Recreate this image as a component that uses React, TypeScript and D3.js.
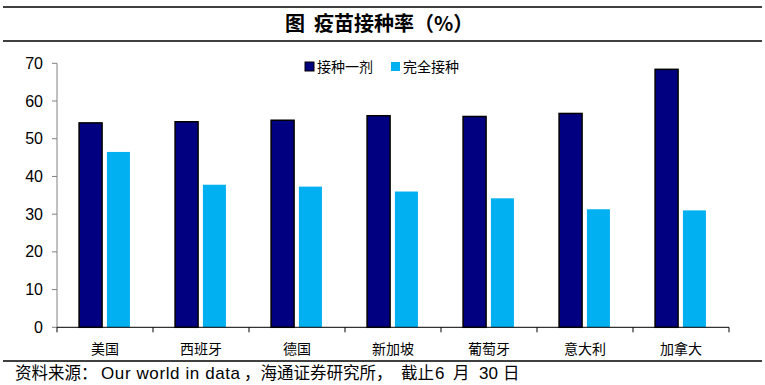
import React from "react";
import * as d3 from "d3";

const countries = ["美国", "西班牙", "德国", "新加坡", "葡萄牙", "意大利", "加拿大"];
const oneDose = [54.2, 54.5, 54.9, 56.1, 55.9, 56.7, 68.4];
const fullyVaccinated = [46.5, 37.8, 37.3, 36.0, 34.2, 31.3, 31.0];
const yTicks = [0, 10, 20, 30, 40, 50, 60, 70];

const W = 765;
const H = 385;
const left = 57;
const right = 729;
const top = 63.3;
const bottom = 327.3;

const cnFont = "'Noto Sans CJK SC', sans-serif";
const numFont = "'Liberation Sans', Arial, sans-serif";

export default function App() {
  const x = d3.scaleBand<string>().domain(countries).range([left, right]);
  const y = d3.scaleLinear().domain([0, 70]).range([bottom, top]);
  const bw = x.bandwidth();
  const barW = 23;

  return (
    <svg width={W} height={H} style={{ position: "absolute", left: 0, top: 0, background: "#fff" }}>
      {/* header rules + title */}
      <line x1={3} x2={762} y1={7} y2={7} stroke="#000" strokeWidth={1.5} />
      <line x1={3} x2={762} y1={41} y2={41} stroke="#000" strokeWidth={1.5} />
      <text x={285} y={31} fontFamily={cnFont} fontWeight="bold" fontSize={20}>图</text>
      <text x={314} y={31} fontFamily={cnFont} fontWeight="bold" fontSize={20}>疫苗接种率（%）</text>

      {/* y axis */}
      <line x1={left} x2={left} y1={top} y2={bottom} stroke="#808080" strokeWidth={1} />
      {yTicks.map(t => (
        <g key={t}>
          <line x1={left - 5} x2={left} y1={y(t)} y2={y(t)} stroke="#808080" />
          <text x={43} y={y(t) + 5.5} textAnchor="end" fontFamily={numFont} fontSize={16} fill="#000">
            {t}
          </text>
        </g>
      ))}

      {/* bars */}
      {countries.map((c, i) => {
        const x0 = x(c)!;
        return (
          <g key={c}>
            <rect
              x={x0 + bw * 0.23}
              y={y(oneDose[i])}
              width={barW}
              height={bottom - y(oneDose[i])}
              fill="#000080"
              stroke="#000"
              strokeWidth={1.5}
            />
            <rect
              x={x0 + bw * 0.52}
              y={y(fullyVaccinated[i])}
              width={barW}
              height={bottom - y(fullyVaccinated[i])}
              fill="#00B0F0"
            />
          </g>
        );
      })}

      {/* x axis */}
      <line x1={left} x2={right} y1={bottom} y2={bottom} stroke="#000" strokeWidth={1} />
      {d3.range(countries.length + 1).map(i => {
        const xx = left + i * bw;
        return <line key={i} x1={xx} x2={xx} y1={bottom} y2={bottom + 5} stroke="#000" />;
      })}
      {countries.map(c => (
        <text key={c} x={x(c)! + bw / 2} y={354} textAnchor="middle" fontFamily={cnFont} fontSize={14}>
          {c}
        </text>
      ))}

      {/* legend */}
      <rect x={305} y={62} width={9} height={9} fill="#000080" stroke="#000" strokeWidth={1} />
      <text x={317} y={72} fontFamily={cnFont} fontSize={14}>接种一剂</text>
      <rect x={391} y={62} width={9} height={9} fill="#00B0F0" />
      <text x={403} y={72} fontFamily={cnFont} fontSize={14}>完全接种</text>

      {/* footer */}
      <line x1={3} x2={762} y1={361} y2={361} stroke="#000" strokeWidth={1.5} />
      <text y={379} fontFamily={cnFont} fontSize={16.5}>
        <tspan x={15}>资料来源：</tspan>
        <tspan x={101} fontFamily={numFont} fontSize={17} letterSpacing={0.6}>Our world in data</tspan>
        <tspan x={244}>，海通证券研究所，</tspan>
        <tspan x={401}>截止</tspan>
        <tspan x={435} fontFamily={numFont} fontSize={17}>6</tspan>
        <tspan x={453}>月</tspan>
        <tspan x={479} fontFamily={numFont} fontSize={17}>30</tspan>
        <tspan x={503}>日</tspan>
      </text>
    </svg>
  );
}
